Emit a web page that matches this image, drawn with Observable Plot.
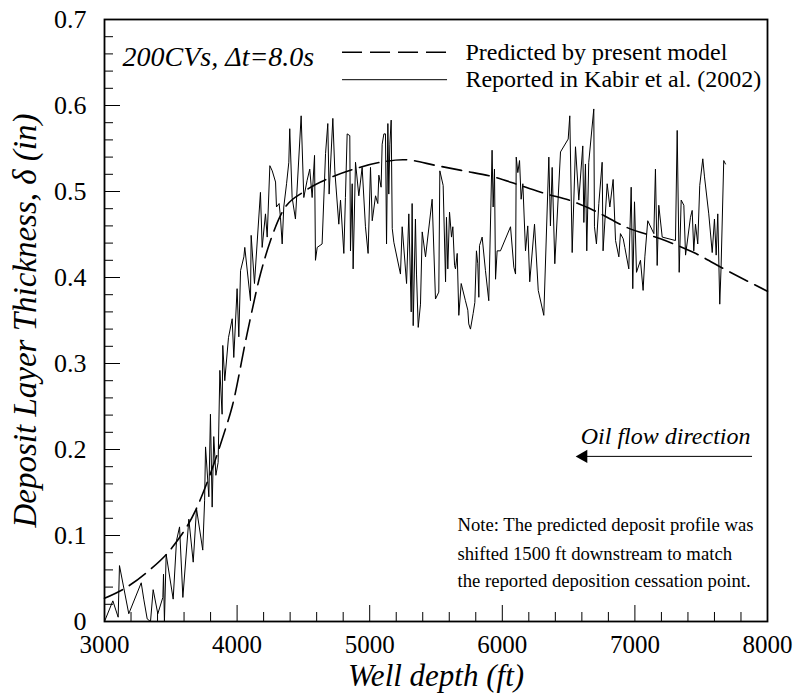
<!DOCTYPE html>
<html><head><meta charset="utf-8">
<script src="https://cdn.jsdelivr.net/npm/d3@7"></script>
<script src="https://cdn.jsdelivr.net/npm/@observablehq/plot@0.6"></script>
<style>body{margin:0;background:#fff} svg, svg text{font-family:"Liberation Serif","Times New Roman",serif !important}</style>
</head><body><div id="chart"></div>
<script>
// Reported in Kabir et al. (2002): well depth (ft) and deposit thickness (in)
const reportedDepth = [3000,3063,3103,3113,3183,3277,3296,3322,3347,3367,3402,3440,3445,3452,3465,3518,3543,3566,3591,3636,3669,3694,3741,3755,3762,3787,3799,3812,3824,3840,3857,3870,3887,3892,3907,3935,3963,3975,4000,4013,4026,4051,4058,4101,4106,4131,4176,4189,4214,4227,4247,4265,4290,4297,4317,4327,4340,4352,4373,4390,4397,4415,4440,4483,4503,4528,4548,4566,4584,4591,4604,4641,4667,4684,4694,4722,4737,4767,4780,4805,4817,4830,4850,4855,4868,4875,4893,4918,4943,4968,4988,5006,5019,5044,5061,5069,5086,5094,5107,5119,5127,5137,5144,5152,5162,5170,5182,5232,5245,5278,5295,5313,5320,5328,5345,5353,5366,5383,5396,5421,5471,5496,5521,5529,5554,5572,5579,5589,5602,5617,5627,5640,5647,5660,5672,5690,5722,5740,5747,5760,5780,5793,5805,5815,5823,5828,5848,5873,5898,5923,5931,5941,5949,5961,5986,6062,6087,6100,6105,6117,6130,6142,6155,6175,6192,6207,6243,6271,6313,6351,6363,6376,6396,6439,6497,6509,6527,6552,6577,6607,6615,6627,6637,6652,6690,6695,6710,6728,6753,6760,6791,6811,6836,6854,6879,6891,6912,6924,6954,6972,6984,6997,7012,7042,7062,7075,7097,7143,7155,7168,7180,7206,7306,7319,7334,7349,7369,7382,7419,7432,7444,7457,7474,7489,7512,7525,7557,7583,7600,7613,7625,7640,7650,7670,7683];
const reportedThickness = [0,0.024,0.005,0.065,0.009,0.045,0.026,0.003,0,0.037,0.009,0.028,0.055,0,0.078,0.026,0.094,0.11,0.028,0.119,0.069,0.131,0.083,0.141,0.203,0.145,0.241,0.133,0.215,0.17,0.185,0.292,0.241,0.321,0.28,0.33,0.352,0.307,0.387,0.331,0.408,0.424,0.435,0.373,0.449,0.393,0.499,0.435,0.474,0.447,0.53,0.524,0.511,0.482,0.486,0.47,0.439,0.482,0.509,0.534,0.573,0.493,0.468,0.588,0.493,0.513,0.526,0.493,0.542,0.42,0.435,0.439,0.544,0.579,0.497,0.585,0.524,0.462,0.49,0.428,0.493,0.567,0.565,0.431,0.509,0.41,0.534,0.495,0.528,0.459,0.428,0.528,0.466,0.495,0.486,0.519,0.505,0.555,0.567,0.567,0.439,0.579,0.497,0.555,0.583,0.457,0.441,0.404,0.459,0.393,0.474,0.36,0.486,0.344,0.468,0.404,0.342,0.369,0.453,0.424,0.491,0.375,0.383,0.524,0.507,0.395,0.47,0.41,0.476,0.447,0.459,0.414,0.41,0.428,0.356,0.393,0.373,0.362,0.346,0.34,0.358,0.371,0.431,0.416,0.377,0.437,0.447,0.408,0.373,0.548,0.482,0.526,0.398,0.431,0.431,0.459,0.412,0.404,0.54,0.522,0.536,0.491,0.509,0.431,0.46,0.395,0.462,0.385,0.356,0.54,0.46,0.528,0.416,0.546,0.561,0.588,0.429,0.552,0.49,0.553,0.464,0.532,0.431,0.534,0.596,0.459,0.439,0.486,0.534,0.431,0.509,0.482,0.514,0.443,0.424,0.451,0.445,0.435,0.41,0.505,0.387,0.488,0.406,0.42,0.385,0.424,0.466,0.451,0.526,0.414,0.484,0.447,0.443,0.571,0.406,0.49,0.484,0.426,0.47,0.478,0.431,0.462,0.439,0.507,0.538,0.517,0.474,0.429,0.468,0.426,0.474,0.369,0.412,0.536,0.532];

// Predicted by present model
const modelDepth = [3000,3158,3334,3510,3686,3799,3900,3963,4076,4176,4252,4340,4516,4717,4880,5081,5250,5509,5710,5936,6137,6338,6502,6690,6942,7193,7444,7696,8000];
const modelThickness = [0.027,0.039,0.059,0.086,0.129,0.172,0.218,0.25,0.335,0.404,0.443,0.476,0.501,0.517,0.526,0.534,0.537,0.530,0.524,0.517,0.507,0.497,0.490,0.478,0.458,0.445,0.429,0.408,0.384];

const xTicks = [3000,4000,5000,6000,7000,8000];
const xMinorTicks = [3200,3400,3600,3800,4200,4400,4600,4800,5200,5400,5600,5800,6200,6400,6600,6800,7200,7400,7600,7800];
const yTicks = [0,0.1,0.2,0.3,0.4,0.5,0.6,0.7];
const yMinorTicks = [0.02,0.04,0.06,0.08,0.12,0.14,0.16,0.18,0.22,0.24,0.26,0.28,0.32,0.34,0.36,0.38,0.42,0.44,0.46,0.48,0.52,0.54,0.56,0.58,0.62,0.64,0.66,0.68];

const reported = reportedDepth.map((d, i) => ({depth: d, delta: reportedThickness[i]}));
const model = modelDepth.map((d, i) => ({depth: d, delta: modelThickness[i]}));

const W = 795, H = 697, mL = 104, mR = 28, mT = 19, mB = 76;
const fw = W - mL - mR, fh = H - mT - mB;
const serif = "Liberation Serif";
const DASH = "20,8";

const chart = Plot.plot({
  width: W, height: H,
  marginLeft: mL, marginRight: mR, marginTop: mT, marginBottom: mB,
  style: {fontFamily: serif, background: "white", color: "black"},
  x: {domain: [3000, 8000]},
  y: {domain: [0, 0.7]},
  marks: [
    Plot.axisX({ticks: xTicks, tickSize: 0, tickPadding: 14, fontSize: 25, fontFamily: serif, tickFormat: "d", label: null}),
    Plot.axisY({ticks: yTicks, tickSize: 0, tickPadding: 18, fontSize: 26, fontFamily: serif, tickFormat: d => d === 0 ? "0" : d.toFixed(1), label: null}),
    Plot.tickX(xMinorTicks, {x: d => d, insetTop: fh - 9, stroke: "black"}),
    Plot.tickX(xTicks, {x: d => d, insetTop: fh - 16, stroke: "black"}),
    Plot.tickY(yMinorTicks, {y: d => d, insetRight: fw - 9, stroke: "black"}),
    Plot.tickY(yTicks, {y: d => d, insetRight: fw - 16, stroke: "black"}),
    Plot.line(reported, {x: "depth", y: "delta", stroke: "black", strokeWidth: 1}),
    Plot.line(model, {x: "depth", y: "delta", stroke: "black", strokeWidth: 1.6, strokeDasharray: DASH, curve: "monotone-x"}),
    Plot.frame({stroke: "black", strokeWidth: 1.8}),
    // annotations
    Plot.text(["200CVs, \u0394t=8.0s"], {x: 3136, y: 0.656, textAnchor: "start", fontStyle: "italic", fontSize: 28, fontFamily: serif}),
    Plot.ruleY([0.662], {x1: 4795, x2: 5587, stroke: "black", strokeWidth: 1.6, strokeDasharray: DASH}),
    Plot.ruleY([0.630], {x1: 4795, x2: 5587, stroke: "black", strokeWidth: 1}),
    Plot.text(["Predicted by present model"], {x: 5722, y: 0.662, textAnchor: "start", fontSize: 24, fontFamily: serif}),
    Plot.text(["Reported in Kabir et al. (2002)"], {x: 5722, y: 0.630, textAnchor: "start", fontSize: 24, fontFamily: serif}),
    Plot.text(["Oil flow direction"], {x: 7872, y: 0.215, textAnchor: "end", fontStyle: "italic", fontSize: 24, fontFamily: serif}),
    Plot.ruleY([0.192], {x1: 6612, x2: 7887, stroke: "black", strokeWidth: 1}),
    Plot.dot([0.192], {x: 6612, y: d => d, symbol: "triangle", rotate: -90, r: 5, fill: "black", stroke: null}),
    Plot.text(["Note: The predicted deposit profile was", "shifted 1500 ft downstream to match", "the reported deposition cessation point."],
      {x: 5662, y: [0.112, 0.079, 0.047], textAnchor: "start", fontSize: 18.7, fontFamily: serif}),
    // axis titles
    Plot.text(["Well depth (ft)"], {frameAnchor: "bottom", dy: 64, textAnchor: "middle", fontStyle: "italic", fontSize: 31, fontFamily: serif}),
    Plot.text(["Deposit Layer Thickness, \u03b4 (in)"], {frameAnchor: "left", dx: -79, rotate: -90, textAnchor: "middle", fontStyle: "italic", fontSize: 33, fontFamily: serif})
  ]
});
document.getElementById("chart").appendChild(chart);
</script>
</body></html>
